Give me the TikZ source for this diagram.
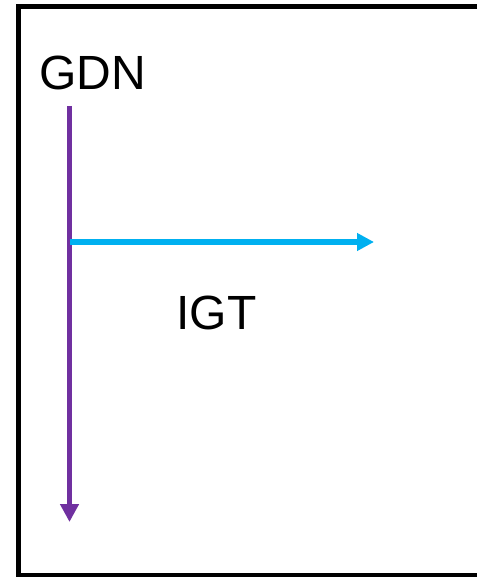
\documentclass[tikz,border=0pt]{standalone}
\usepackage{fontspec}
\setmainfont{Liberation Sans}
\usetikzlibrary{arrows.meta}
\definecolor{gdnpurple}{HTML}{7030A0}
\definecolor{igtblue}{HTML}{00B0F0}
\begin{document}
\begin{tikzpicture}[x=1pt,y=-1pt,
  frame/.style={draw=black,line width=5pt},
  label/.style={inner sep=0pt,font=\fontsize{48}{48}\selectfont},
  gdnline/.style={draw=gdnpurple,line width=5pt,-{Triangle[width=18pt,length=18pt]}},
  igtline/.style={draw=igtblue,line width=6pt,-{Triangle[width=17pt,length=17pt]}}]
  \useasboundingbox (0,0) rectangle (477,577);
  % outer frame, open on the right
  \draw[frame] (477,6.5) -- (18.5,6.5) -- (18.5,575) -- (477,575);
  % labels
  \node[label] (gdn) at (92.5,72.5) {GDN};
  \node[label] (igt) at (216.5,312.5) {IGT};
  % connectors
  \coordinate (gdnstart) at (69.5,106);
  \coordinate (gdnend) at (69.5,522);
  \coordinate (igtstart) at (69.5,242);
  \coordinate (igtend) at (374,242);
  \draw[gdnline] (gdnstart) -- (gdnend);
  \draw[igtline] (igtstart) -- (igtend);
\end{tikzpicture}
\end{document}
